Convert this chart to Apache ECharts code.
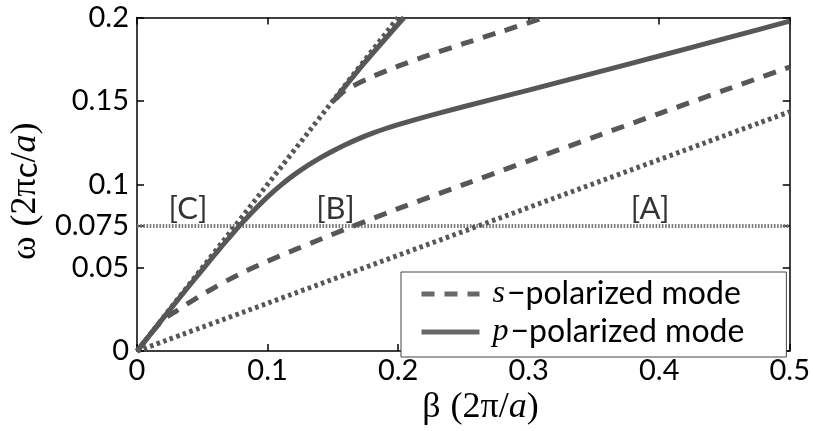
<!DOCTYPE html>
<html>
<head>
<meta charset="utf-8">
<script src="https://cdn.jsdelivr.net/npm/echarts@6/dist/echarts.min.js"></script>
<style>
  html, body { margin: 0; padding: 0; background: #fff; }
  #chart { width: 813px; height: 431px; }
</style>
</head>
<body>
<div id="chart"></div>
<script>
// Axis ticks
const betaTicks = [0, 0.1, 0.2, 0.3, 0.4, 0.5];
const omegaTicks = [0, 0.05, 0.075, 0.1, 0.15, 0.2];

// Vacuum light line (omega = beta) and substrate light line
const lightBeta = [0, 0.2];
const lightOmega = [0, 0.2];
const substrateBeta = [0, 0.5];
const substrateOmega = [0, 0.1435];

// Operating frequency
const opFreq = 0.075;

// s-polarized bands
const sLowBeta  = [0, 0.01, 0.02, 0.03, 0.04, 0.05, 0.06, 0.07, 0.08, 0.09, 0.10, 0.12, 0.14, 0.16, 0.18, 0.20, 0.25, 0.30, 0.35, 0.40, 0.45, 0.50];
const sLowOmega = [0, 0.0099, 0.0188, 0.0240, 0.0291, 0.0339, 0.0384, 0.0427, 0.0467, 0.0504, 0.0539, 0.0605, 0.0669, 0.0732, 0.0793, 0.0854, 0.0998, 0.1141, 0.1283, 0.1424, 0.1564, 0.1703];
const sHighBeta  = [0.152, 0.158, 0.165, 0.18, 0.20, 0.22, 0.25, 0.28, 0.31];
const sHighOmega = [0.151, 0.1555, 0.1588, 0.1645, 0.1708, 0.1765, 0.1843, 0.1918, 0.1995];

// p-polarized bands
const pLowBeta  = [0, 0.02, 0.04, 0.06, 0.07, 0.08, 0.09, 0.10, 0.11, 0.12, 0.13, 0.14, 0.15, 0.16, 0.17, 0.18, 0.19, 0.20, 0.22, 0.25, 0.30, 0.35, 0.40, 0.45, 0.50];
const pLowOmega = [0, 0.0198, 0.0392, 0.0582, 0.0675, 0.0764, 0.0848, 0.0925, 0.0994, 0.1055, 0.1109, 0.1157, 0.1200, 0.1239, 0.1274, 0.1305, 0.1333, 0.1358, 0.1403, 0.1465, 0.1565, 0.1667, 0.1769, 0.1873, 0.1978];
const pHighBeta  = [0.15, 0.175, 0.2045];
const pHighOmega = [0.1495, 0.1735, 0.2];

// Region markers
const regionNames = ['[C]', '[B]', '[A]'];
const regionBeta  = [0.039, 0.152, 0.393];
const regionOmega = [0.085, 0.085, 0.085];

const S_NAME = 's-polarized mode';
const P_NAME = 'p-polarized mode';

const pairs = (xs, ys) => xs.map((x, i) => [x, ys[i]]);

const INK = '#575757';
const SANS = 'Lato';
const SERIF = 'Liberation Serif';

const dotted = { color: INK, width: 5, type: [3.5, 3.5] };
const dashed = { color: INK, width: 5, type: [13, 10] };
const solid  = { color: INK, width: 5, type: 'solid' };

const fmt = v => String(+(+v).toFixed(3));

const chart = echarts.init(document.getElementById('chart'), null, { renderer: 'canvas' });

const boxAxisX = (pos, show) => ({
  type: 'value', position: pos, min: 0, max: 0.5, interval: 0.1,
  axisLine: { show: true, onZero: false, lineStyle: { color: '#000', width: 1.5 } },
  axisTick: { show: true, inside: true, length: 7, lineStyle: { color: '#000', width: 1.5 } },
  axisLabel: { show: show, color: '#000', fontFamily: SANS, fontSize: 29, margin: 5, formatter: fmt },
  splitLine: { show: false }
});
const boxAxisY = (pos, show) => ({
  type: 'value', position: pos, min: 0, max: 0.2, interval: 0.025,
  axisLine: { show: true, onZero: false, lineStyle: { color: '#000', width: 1.5 } },
  axisTick: { show: true, inside: true, length: 7, customValues: omegaTicks, lineStyle: { color: '#000', width: 1.5 } },
  axisLabel: { show: show, color: '#000', fontFamily: SANS, fontSize: 29, margin: 8, customValues: omegaTicks, formatter: fmt },
  splitLine: { show: false }
});

const xBottom = boxAxisX('bottom', true);
xBottom.name = '{g|β}{s| }{t|(2π/}{i|a}{t|)}';
xBottom.nameLocation = 'middle';
xBottom.nameGap = 34;
xBottom.nameTextStyle = {
  padding: [0, 0, 0, 34],
  rich: {
    g: { fontFamily: SERIF, fontSize: 36, color: '#000' },
    s: { fontFamily: SERIF, fontSize: 36, color: '#000', width: 10 },
    t: { fontFamily: SERIF, fontSize: 36, color: '#000' },
    i: { fontFamily: SERIF, fontSize: 36, fontStyle: 'italic', color: '#000' }
  }
};

const yLeft = boxAxisY('left', true);
yLeft.name = '{g|ω}{s| }{t|(2π}{c|c}{t|/}{i|a}{t|)}';
yLeft.nameLocation = 'middle';
yLeft.nameRotate = 90;
yLeft.nameGap = 90;
yLeft.nameTextStyle = {
  padding: [0, 14, 0, 0],
  rich: {
    g: { fontFamily: SERIF, fontSize: 36, color: '#000' },
    s: { fontFamily: SERIF, fontSize: 36, color: '#000', width: 10 },
    t: { fontFamily: SERIF, fontSize: 36, color: '#000' },
    c: { fontFamily: SANS, fontSize: 33, color: '#000' },
    i: { fontFamily: SERIF, fontSize: 36, fontStyle: 'italic', color: '#000' }
  }
};

const line = (name, data, style, z) => ({
  type: 'line', name: name, data: data, symbol: 'none', showSymbol: false,
  smooth: 0.2,
  lineStyle: style, itemStyle: { color: INK }, z: z, animation: false, silent: true
});

chart.setOption({
  animation: false,
  backgroundColor: '#fff',
  grid: { left: 136, top: 17.5, right: 21, bottom: 68 },
  xAxis: [xBottom, boxAxisX('top', false)],
  yAxis: [yLeft, boxAxisY('right', false)],
  legend: {
    data: [S_NAME, P_NAME],
    left: 401, top: 272, orient: 'vertical',
    padding: [6, 42, 9, 18],
    itemGap: 6, itemWidth: 58, itemHeight: 14,
    borderColor: '#444', borderWidth: 1, backgroundColor: '#fff',
    selectedMode: false,
    itemStyle: { opacity: 0 },
    lineStyle: { color: '#686868', width: 5 },
    formatter: name => (name === S_NAME ? '{i|s}' : '{i|p}') + '{t|−polarized mode}',
    textStyle: {
      lineHeight: 32,
      rich: {
        i: { fontFamily: SERIF, fontStyle: 'italic', fontSize: 32, color: '#000', lineHeight: 32, padding: [0, 0, 0, 8] },
        t: { fontFamily: SANS, fontSize: 32, color: '#000', lineHeight: 32, padding: [0, 0, 0, 2] }
      }
    }
  },
  series: [
    line('light line', pairs(lightBeta, lightOmega), dotted, 2),
    line('substrate line', pairs(substrateBeta, substrateOmega), dotted, 2),
    line('operating frequency', [[0, opFreq], [0.5, opFreq]], { color: '#7a7a7a', width: 4, type: [1.6, 1.6] }, 1),
    line(S_NAME, pairs(sLowBeta, sLowOmega), dashed, 3),
    line(S_NAME, pairs(sHighBeta, sHighOmega), dashed, 3),
    line(P_NAME, pairs(pLowBeta, pLowOmega), solid, 4),
    line(P_NAME, pairs(pHighBeta, pHighOmega), solid, 4),
    {
      type: 'scatter', name: 'regions', symbolSize: 0, silent: true, z: 5,
      data: regionNames.map((n, i) => ({ name: n, value: [regionBeta[i], regionOmega[i]] })),
      label: { show: true, position: 'inside', formatter: p => p.name, color: '#000', fontFamily: SANS, fontSize: 31 }
    }
  ]
});
</script>
</body>
</html>
